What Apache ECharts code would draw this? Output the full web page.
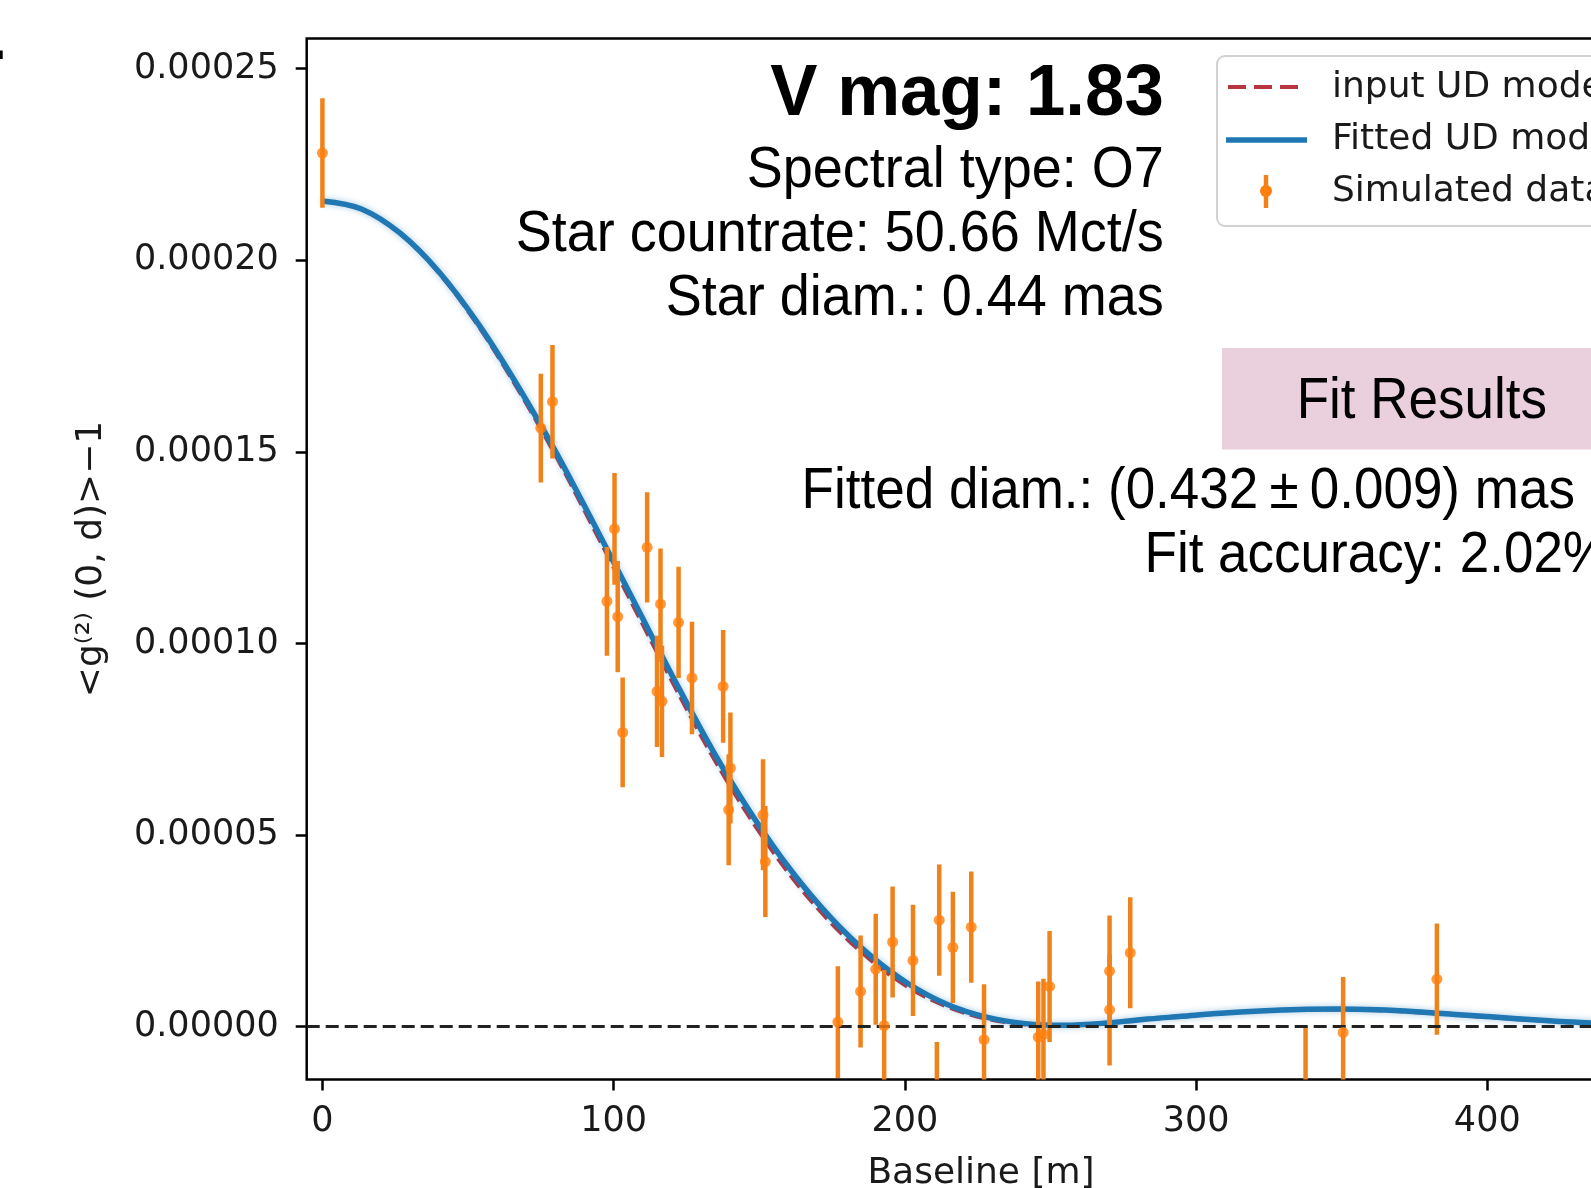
<!DOCTYPE html>
<html>
<head>
<meta charset="utf-8">
<script src="https://cdn.jsdelivr.net/npm/echarts@6/dist/echarts.min.js"></script>
<style>
html,body{margin:0;padding:0;background:#ffffff;}
#chart{width:1591px;height:1188px;}
</style>
</head>
<body>
<div id="chart"></div>
<script>
// ---------- data ----------
// simulated measurements: baseline [m], <g2>-1 and its 1-sigma error
const simBaseline = [0, 75.0, 79.0, 97.7, 100.3, 101.4, 103.1, 111.5, 114.9, 116.1, 116.6, 122.3, 126.9,
  137.6, 139.5, 140.1, 151.3, 152.1, 177.0, 184.8, 190.0, 192.9, 195.8, 202.8, 211.0, 211.8, 216.5,
  222.8, 227.2, 245.8, 247.6, 249.7, 270.3, 270.3, 277.4, 337.6, 350.5, 382.7];
const simValue = [22.80e-5, 15.62e-5, 16.31e-5, 11.10e-5, 12.99e-5, 10.70e-5, 7.68e-5, 12.51e-5, 8.75e-5,
  11.03e-5, 8.49e-5, 10.55e-5, 9.10e-5, 8.88e-5, 5.66e-5, 6.75e-5, 5.53e-5, 4.31e-5, 0.12e-5, 0.92e-5,
  1.50e-5, 0.03e-5, 2.21e-5, 1.73e-5, -1.85e-5, 2.78e-5, 2.07e-5, 2.60e-5, -0.34e-5, -0.27e-5, -0.20e-5,
  1.05e-5, 1.45e-5, 0.44e-5, 1.93e-5, -1.45e-5, -0.15e-5, 1.24e-5];
const simError = [1.43e-5, 1.42e-5, 1.48e-5, 1.42e-5, 1.46e-5, 1.45e-5, 1.43e-5, 1.44e-5, 1.45e-5,
  1.45e-5, 1.45e-5, 1.45e-5, 1.47e-5, 1.47e-5, 1.45e-5, 1.45e-5, 1.45e-5, 1.45e-5, 1.46e-5, 1.46e-5,
  1.45e-5, 1.45e-5, 1.45e-5, 1.45e-5, 1.45e-5, 1.45e-5, 1.45e-5, 1.45e-5, 1.45e-5, 1.45e-5, 1.45e-5,
  1.45e-5, 1.45e-5, 1.45e-5, 1.45e-5, 1.45e-5, 1.45e-5, 1.45e-5];

// fitted uniform-disk model (blue)
const fitBaseline = [0, 13.4, 26.8, 40.2, 53.7, 67.1, 80.5, 93.9, 107.3, 120.7, 134.1, 147.6, 161.0, 174.4,
  187.8, 201.2, 214.6, 228.0, 241.5, 254.9, 268.3, 281.7, 295.1, 308.5, 321.9, 335.4, 348.8, 362.2, 375.6,
  389.0, 402.4, 415.8, 429.3, 442.7, 456.1];
const fitValue = [21.55e-5, 21.34e-5, 20.70e-5, 19.68e-5, 18.32e-5, 16.72e-5, 14.95e-5, 13.02e-5, 11.05e-5,
  9.08e-5, 7.20e-5, 5.52e-5, 4.07e-5, 2.86e-5, 1.88e-5, 1.12e-5, 0.58e-5, 0.25e-5, 0.08e-5, 0.04e-5,
  0.09e-5, 0.19e-5, 0.27e-5, 0.35e-5, 0.41e-5, 0.45e-5, 0.46e-5, 0.44e-5, 0.39e-5, 0.32e-5, 0.25e-5,
  0.18e-5, 0.12e-5, 0.08e-5, 0.05e-5];

// input uniform-disk model (red dashed, mostly hidden under the fit)
const inputBaseline = [0, 13.4, 26.8, 40.2, 53.7, 67.1, 80.5, 93.9, 107.3, 120.7, 134.1, 147.6, 161.0, 174.4,
  187.8, 201.2, 214.6, 228.0, 241.5, 254.9, 268.3, 281.7, 295.1, 308.5, 321.9, 335.4, 348.8, 362.2, 375.6,
  389.0, 402.4, 415.8, 429.3, 442.7, 456.1];
const inputValue = [21.55e-5, 21.34e-5, 20.69e-5, 19.65e-5, 18.27e-5, 16.64e-5, 14.85e-5, 12.89e-5, 10.90e-5,
  8.92e-5, 7.04e-5, 5.36e-5, 3.92e-5, 2.73e-5, 1.77e-5, 1.03e-5, 0.52e-5, 0.21e-5, 0.06e-5, 0.03e-5,
  0.08e-5, 0.18e-5, 0.27e-5, 0.35e-5, 0.41e-5, 0.44e-5, 0.45e-5, 0.43e-5, 0.38e-5, 0.31e-5, 0.24e-5,
  0.17e-5, 0.11e-5, 0.07e-5, 0.04e-5];

const zeroLevel = 0;
const xTickValues = [0, 100, 200, 300, 400];
const yTickValues = [0, 5e-5, 10e-5, 15e-5, 20e-5, 25e-5];

const seriesNames = ['input UD model', 'Fitted UD model', 'Simulated data'];
const starInfo = ['V mag: 1.83', 'Spectral type: O7', 'Star countrate: 50.66 Mct/s', 'Star diam.: 0.44 mas'];
const fitTitle = 'Fit Results';
const fitDiamParts = ['Fitted diam.: (0.432', '±', '0.009) mas'];
const fitAccuracy = 'Fit accuracy: 2.02%';
const xName = 'Baseline [m]';
const yName = '<g⁽²⁾ (0, d)>−1';

// ---------- chart ----------
const X_MIN = -5.4, X_MAX = 457.7;
const Y_MIN = -1.378e-5, Y_MAX = 25.788e-5;
const AX_FONT = 'DejaVu Sans';
const TXT_FONT = 'Liberation Sans';
const AX_COLOR = '#1a1a1a';
const ORANGE = '#ff7f0e';
const ORANGE_BAR = '#f0821c';
const BLUE = '#1f77b4';
const RED = '#b8353f';
const SX = 0.947;

const chart = echarts.init(document.getElementById('chart'), null, {renderer: 'canvas'});

function txt(x, y, text, opts) {
  return Object.assign({
    type: 'text', x: x, y: y, z: 100,
    style: Object.assign({
      text: text, fill: '#000', fontFamily: TXT_FONT, fontSize: 57,
      align: 'left', verticalAlign: 'middle', textAlign: 'left', textVerticalAlign: 'middle'
    }, opts.style || {})
  }, opts.el || {});
}

const option = {
  animation: false,
  backgroundColor: '#ffffff',
  grid: {
    left: 306.7, top: 38.5, right: -64.3, bottom: 108.5,
    show: true, borderColor: '#000', borderWidth: 2.5,
    containLabel: false, outerBoundsMode: 'none'
  },
  xAxis: {
    type: 'value', min: X_MIN, max: X_MAX,
    name: xName, nameLocation: 'middle', nameGap: 76,
    nameTextStyle: {fontFamily: AX_FONT, fontSize: 36, color: AX_COLOR},
    axisLine: {show: false, onZero: false},
    axisTick: {show: true, customValues: xTickValues, length: 11, lineStyle: {color: '#000', width: 2.5}},
    axisLabel: {customValues: xTickValues, fontFamily: AX_FONT, fontSize: 35, color: AX_COLOR, margin: 25},
    splitLine: {show: false}
  },
  yAxis: {
    type: 'value', min: Y_MIN, max: Y_MAX,
    name: yName, nameLocation: 'middle', nameRotate: 90, nameGap: 197,
    nameTextStyle: {fontFamily: AX_FONT, fontSize: 36, color: AX_COLOR},
    axisLine: {show: false, onZero: false},
    axisTick: {show: true, customValues: yTickValues, length: 11, lineStyle: {color: '#000', width: 2.5}},
    axisLabel: {
      customValues: yTickValues, fontFamily: AX_FONT, fontSize: 35, color: AX_COLOR, margin: 28,
      formatter: function (v) { return (Math.abs(v) < 1e-12 ? 0 : v).toFixed(5); }
    },
    splitLine: {show: false}
  },
  series: [
    {
      name: seriesNames[0], type: 'line', z: 2,
      data: inputBaseline.map(function (b, i) { return [b, inputValue[i]]; }),
      smooth: 0.35, symbol: 'none', showSymbol: false, clip: true,
      lineStyle: {color: RED, width: 4, type: [15, 6]},
      markLine: {
        silent: true, symbol: 'none', label: {show: false},
        lineStyle: {color: '#222', width: 3, type: [13, 6]},
        data: [{yAxis: zeroLevel}]
      }
    },
    {
      name: seriesNames[1], type: 'line', z: 3,
      data: fitBaseline.map(function (b, i) { return [b, fitValue[i]]; }),
      smooth: 0.35, symbol: 'none', showSymbol: false, clip: true,
      lineStyle: {color: BLUE, width: 5.5, shadowColor: 'rgba(31,119,180,0.4)', shadowBlur: 6}
    },
    {
      name: seriesNames[2] + ' errors', type: 'custom', z: 4, clip: true,
      data: simBaseline.map(function (b, i) { return [b, simValue[i], simError[i]]; }),
      encode: {x: 0, y: 1},
      renderItem: function (params, api) {
        const x = api.value(0), y = api.value(1), e = api.value(2);
        const top = api.coord([x, y + e]);
        const bot = api.coord([x, y - e]);
        return {
          type: 'line',
          shape: {x1: top[0], y1: top[1], x2: bot[0], y2: bot[1]},
          style: {stroke: ORANGE_BAR, lineWidth: 4.5}
        };
      }
    },
    {
      name: seriesNames[2], type: 'scatter', z: 5, clip: true,
      data: simBaseline.map(function (b, i) { return [b, simValue[i]]; }),
      symbol: 'circle', symbolSize: 11,
      itemStyle: {color: ORANGE}
    }
  ],
  graphic: [
    // tiny fragment at top-left edge
    {type: 'rect', z: 100, shape: {x: 0, y: 50.5, width: 2.7, height: 8.5}, style: {fill: '#000'}},
    // star information
    txt(1163.8, 95.3, starInfo[0], {el: {scaleX: 0.97}, style: {fontWeight: 'bold', fontSize: 73, align: 'right', textAlign: 'right'}}),
    txt(1163.8, 171.4, starInfo[1], {el: {scaleX: SX}, style: {align: 'right', textAlign: 'right'}}),
    txt(1163.8, 234.8, starInfo[2], {el: {scaleX: SX}, style: {align: 'right', textAlign: 'right'}}),
    txt(1163.8, 299.3, starInfo[3], {el: {scaleX: SX}, style: {align: 'right', textAlign: 'right'}}),
    // legend
    {type: 'rect', z: 95, shape: {x: 1217, y: 56, width: 520, height: 170, r: 8},
      style: {fill: 'rgba(255,255,255,0.9)', stroke: '#d2d2d2', lineWidth: 2}},
    {type: 'line', z: 100, shape: {x1: 1228, y1: 87, x2: 1300, y2: 87},
      style: {stroke: RED, lineWidth: 4, lineDash: [18, 8]}},
    {type: 'line', z: 100, shape: {x1: 1226, y1: 140, x2: 1307, y2: 140},
      style: {stroke: BLUE, lineWidth: 5.5}},
    {type: 'line', z: 100, shape: {x1: 1266, y1: 175, x2: 1266, y2: 208},
      style: {stroke: ORANGE_BAR, lineWidth: 4.5}},
    {type: 'circle', z: 101, shape: {cx: 1266, cy: 191, r: 6}, style: {fill: ORANGE}},
    txt(1332, 88, seriesNames[0], {style: {fontFamily: AX_FONT, fontSize: 36, fill: AX_COLOR}}),
    txt(1332, 140, seriesNames[1], {style: {fontFamily: AX_FONT, fontSize: 36, fill: AX_COLOR}}),
    txt(1332, 192, seriesNames[2], {style: {fontFamily: AX_FONT, fontSize: 36, fill: AX_COLOR}}),
    // fit results box
    {type: 'rect', z: 95, shape: {x: 1222, y: 348, width: 460, height: 101.5}, style: {fill: '#e9d0dc'}},
    txt(1296.7, 401.8, fitTitle, {el: {scaleX: 0.93}, style: {}}),
    {
      type: 'text', x: 801.6, y: 492, z: 100, scaleX: 0.93,
      style: {
        text: '{a|' + fitDiamParts[0] + '}{pm|' + fitDiamParts[1] + '}{a|' + fitDiamParts[2] + '}',
        fill: '#000', fontFamily: TXT_FONT, fontSize: 57,
        align: 'left', verticalAlign: 'middle', textAlign: 'left', textVerticalAlign: 'middle',
        rich: {
          a: {fontFamily: TXT_FONT, fontSize: 57, fill: '#000'},
          pm: {fontFamily: TXT_FONT, fontSize: 57, fill: '#000', padding: [0, 12, 0, 12]}
        }
      }
    },
    txt(1144.5, 556, fitAccuracy, {el: {scaleX: 0.93}, style: {}})
  ]
};

chart.setOption(option);
</script>
</body>
</html>
